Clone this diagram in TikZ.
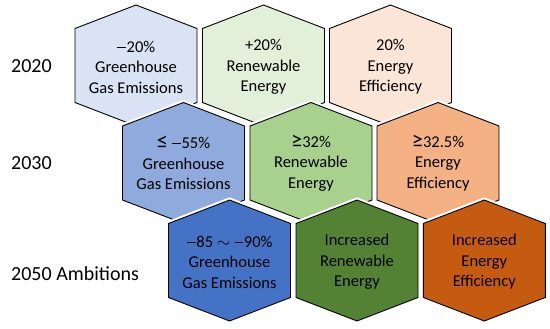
\documentclass[tikz,border=0pt]{standalone}
\usepackage{fontspec}
\usepackage{graphicx}
\setmainfont{Carlito}
\definecolor{b1}{HTML}{DAE3F3}
\definecolor{g1}{HTML}{E2F0D9}
\definecolor{o1}{HTML}{FBE5D6}
\definecolor{b2}{HTML}{8FAADC}
\definecolor{g2}{HTML}{A9D18E}
\definecolor{o2}{HTML}{F4B183}
\definecolor{b3}{HTML}{4472C4}
\definecolor{g3}{HTML}{548235}
\definecolor{o3}{HTML}{C55A11}
\newcommand\mnus{\hspace{0.04em}\raisebox{0.28em}{\rule{0.52em}{0.055em}}\hspace{0.04em}}
\newcommand\mleq{\scalebox{1.35}{≤}}
\newcommand\mgeq{\scalebox{1.35}{≥}}
\tikzset{
  hexshape/.style={draw=black, line width=0.9pt, line join=miter,
    preaction={draw=white, line width=5pt}},
  hextext/.style={align=center, inner sep=0pt, text=black,
    font=\fontsize{16.5}{20.5}\selectfont},
  yeartext/.style={anchor=base west, inner sep=0pt,
    font=\fontsize{20}{24}\selectfont}
}
\newcommand\hexat[2]{%
  \path[hexshape, fill=#2] (#1) ++(0,60.5) -- ++(61,-23.5) -- ++(0,-74) -- ++(-61,-23.5) -- ++(-61,23.5) -- ++(0,74) -- cycle;}
\begin{document}
\begin{tikzpicture}[x=1pt,y=1pt]
\useasboundingbox (0,0) rectangle (550,-329);
% centres
\coordinate (c11) at (136,-65.5);
\coordinate (c12) at (263.5,-65.5);
\coordinate (c13) at (390.5,-65.5);
\coordinate (c21) at (183.5,-163);
\coordinate (c22) at (311,-163);
\coordinate (c23) at (438,-163);
\coordinate (c31) at (229.5,-260.5);
\coordinate (c32) at (357,-260.5);
\coordinate (c33) at (484.3,-260.5);
% row 1
\hexat{c11}{b1}\hexat{c12}{g1}\hexat{c13}{o1}
% row 2
\hexat{c21}{b2}\hexat{c22}{g2}\hexat{c23}{o2}
% row 3
\hexat{c31}{b3}\hexat{c32}{g3}\hexat{c33}{o3}
% texts
\node[hextext] (t11) at ([yshift=-1.5]c11) {\mnus20\%\\Greenhouse\\Gas Emissions};
\node[hextext] (t12) at ([yshift=-1.5]c12) {+20\%\\Renewable\\Energy};
\node[hextext] (t13) at ([yshift=-1.5]c13) {20\%\\Energy\\Efficiency};
\node[hextext] (t21) at (c21) {\mleq{} \mnus55\%\\Greenhouse\\Gas Emissions};
\node[hextext] (t22) at (c22) {\mgeq32\%\\Renewable\\Energy};
\node[hextext] (t23) at (c23) {\mgeq32.5\%\\Energy\\Efficiency};
\node[hextext] (t31) at ([yshift=-1.5]c31) {\mnus85 $\sim$ \mnus90\%\\Greenhouse\\Gas Emissions};
\node[hextext] (t32) at ([yshift=-1.5]c32) {Increased\\Renewable\\Energy};
\node[hextext] (t33) at ([yshift=-1.5]c33) {Increased\\Energy\\Efficiency};
% year labels
\node[yeartext] (y1) at (11,-72.7) {2020};
\node[yeartext] (y2) at (11,-170) {2030};
\node[yeartext] (y3) at (11,-280) {2050 Ambitions};
\end{tikzpicture}
\end{document}
